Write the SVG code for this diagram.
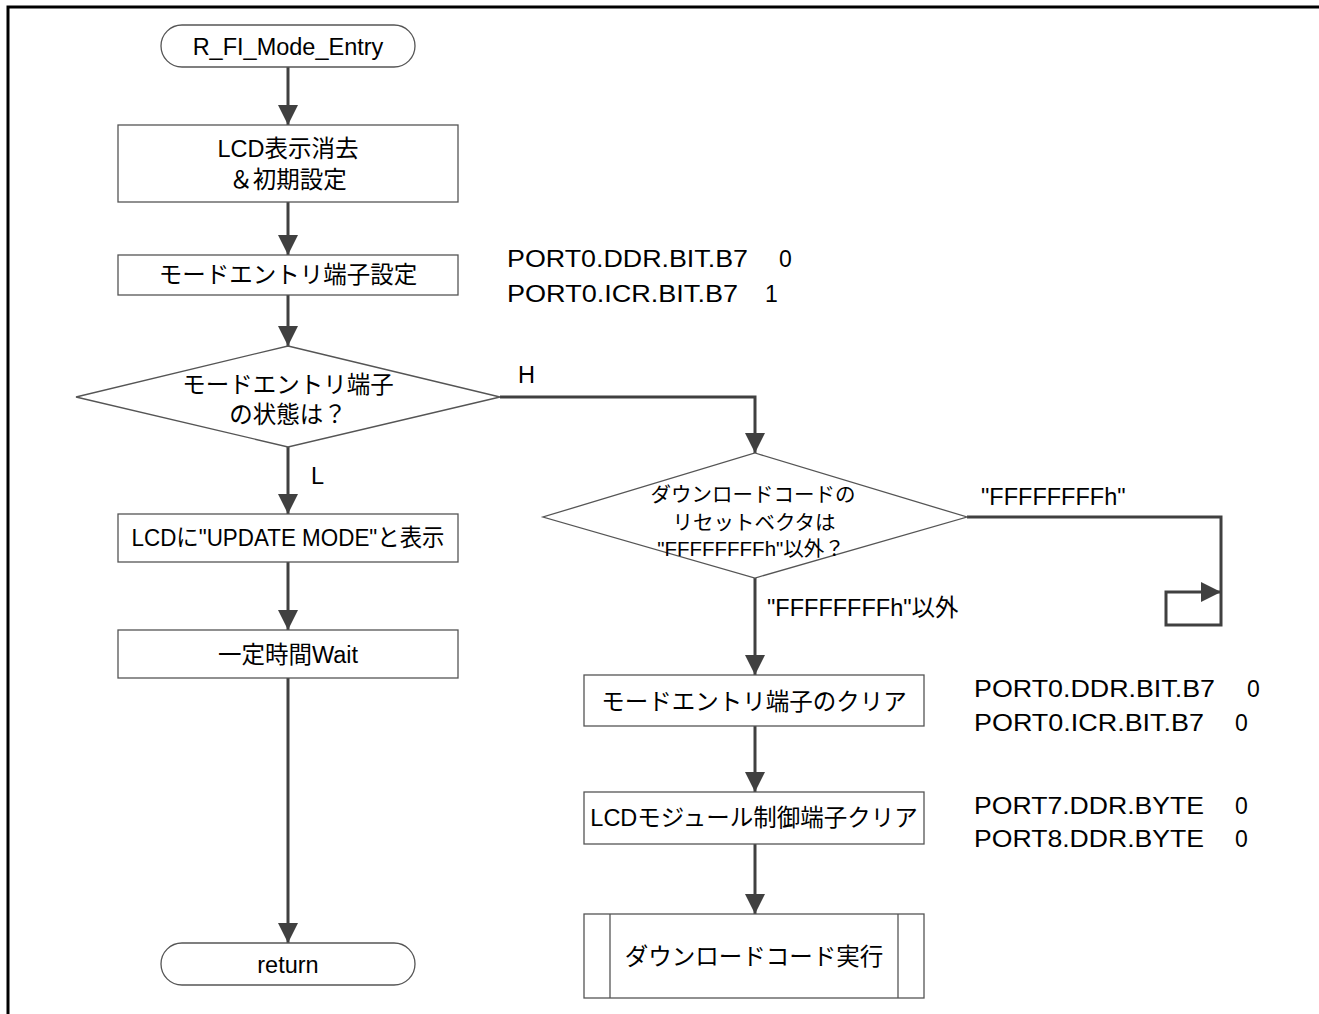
<svg xmlns="http://www.w3.org/2000/svg" width="1319" height="1014" viewBox="0 0 1319 1014">
<defs>
<style>
.node{fill:#fff;stroke:#555;stroke-width:1.3}
.t{font-family:"Liberation Sans","Noto Sans CJK JP",sans-serif;font-size:23.5px;fill:#000;text-anchor:middle}
.s{font-family:"Liberation Sans","Noto Sans CJK JP",sans-serif;font-size:20.5px;fill:#000;text-anchor:middle}
.l{font-family:"Liberation Sans","Noto Sans CJK JP",sans-serif;font-size:23.5px;fill:#000}
.a{font-family:"Liberation Sans","Noto Sans CJK JP",sans-serif;font-size:23px;fill:#000}
.c{fill:none;stroke:#404040;stroke-width:3}
</style>
<marker id="ah" viewBox="0 0 20 20" refX="20" refY="10" markerWidth="20" markerHeight="20" markerUnits="userSpaceOnUse" orient="auto">
<path d="M0,0 L20,10 L0,20 Z" fill="#404040"/>
</marker>
</defs>
<rect width="1319" height="1014" fill="#fff"/>
<path d="M8,1014 V7 H1319" fill="none" stroke="#000" stroke-width="3"/>

<g id="connectors">
<path class="c" d="M288,67 V125" marker-end="url(#ah)"/>
<path class="c" d="M288,202 V255" marker-end="url(#ah)"/>
<path class="c" d="M288,295 V346" marker-end="url(#ah)"/>
<path class="c" d="M288,447 V514" marker-end="url(#ah)"/>
<path class="c" d="M288,562 V630" marker-end="url(#ah)"/>
<path class="c" d="M288,678 V943" marker-end="url(#ah)"/>
<path class="c" d="M500,397 H755 V453" marker-end="url(#ah)"/>
<path class="c" d="M967,517 H1221 V625 H1166 V592 H1221" marker-end="url(#ah)"/>
<path class="c" d="M755,578 V675" marker-end="url(#ah)"/>
<path class="c" d="M755,726 V792" marker-end="url(#ah)"/>
<path class="c" d="M755,844 V914" marker-end="url(#ah)"/>
<text class="l" x="518" y="383">H</text>
<text class="l" x="311" y="484">L</text>
<text class="l" x="981" y="505">"FFFFFFFFh"</text>
<text class="l" x="767" y="616">"FFFFFFFFh"以外</text>
</g>

<g id="start">
<rect class="node" x="161" y="25" width="254" height="42" rx="21"/>
<text class="t" x="288" y="55">R_FI_Mode_Entry</text>
</g>
<g id="lcd-init">
<rect class="node" x="118" y="125" width="340" height="77"/>
<text class="t" x="288" y="157">LCD表示消去</text>
<text class="t" x="288" y="188">＆初期設定</text>
</g>
<g id="mode-pin-set">
<rect class="node" x="118" y="255" width="340" height="40"/>
<text class="t" x="288" y="283">モードエントリ端子設定</text>
</g>
<g id="note1">
<text class="a" x="507" y="267"><tspan textLength="241" lengthAdjust="spacingAndGlyphs">PORT0.DDR.BIT.B7</tspan><tspan x="779">0</tspan></text>
<text class="a" x="507" y="302"><tspan textLength="231" lengthAdjust="spacingAndGlyphs">PORT0.ICR.BIT.B7</tspan><tspan x="765">1</tspan></text>
</g>
<g id="pin-state">
<polygon class="node" points="288,346 500,397 288,447 76,397"/>
<text class="t" x="288" y="393">モードエントリ端子</text>
<text class="t" x="288" y="423">の状態は？</text>
</g>
<g id="lcd-update">
<rect class="node" x="118" y="514" width="340" height="48"/>
<text class="t" x="288" y="546" textLength="313" lengthAdjust="spacingAndGlyphs">LCDに"UPDATE MODE"と表示</text>
</g>
<g id="wait">
<rect class="node" x="118" y="630" width="340" height="48"/>
<text class="t" x="288" y="663">一定時間Wait</text>
</g>
<g id="return">
<rect class="node" x="161" y="943" width="254" height="42" rx="21"/>
<text class="t" x="288" y="973">return</text>
</g>
<g id="reset-vector">
<polygon class="node" points="755,453 967,517 755,578 543,517"/>
<text class="s" x="753" y="502">ダウンロードコードの</text>
<text class="s" x="754" y="530">リセットベクタは</text>
<text class="s" x="751" y="556">"FFFFFFFFh"以外？</text>
</g>
<g id="pin-clear">
<rect class="node" x="584" y="675" width="340" height="51"/>
<text class="t" x="754" y="710">モードエントリ端子のクリア</text>
</g>
<g id="note2">
<text class="a" x="974" y="697"><tspan textLength="241" lengthAdjust="spacingAndGlyphs">PORT0.DDR.BIT.B7</tspan><tspan x="1247">0</tspan></text>
<text class="a" x="974" y="731"><tspan textLength="230" lengthAdjust="spacingAndGlyphs">PORT0.ICR.BIT.B7</tspan><tspan x="1235">0</tspan></text>
</g>
<g id="lcd-pin-clear">
<rect class="node" x="584" y="792" width="340" height="52"/>
<text class="t" x="754" y="826">LCDモジュール制御端子クリア</text>
</g>
<g id="note3">
<text class="a" x="974" y="814"><tspan textLength="230" lengthAdjust="spacingAndGlyphs">PORT7.DDR.BYTE</tspan><tspan x="1235">0</tspan></text>
<text class="a" x="974" y="847"><tspan textLength="230" lengthAdjust="spacingAndGlyphs">PORT8.DDR.BYTE</tspan><tspan x="1235">0</tspan></text>
</g>
<g id="run-download">
<rect class="node" x="584" y="914" width="340" height="84"/>
<line class="node" x1="610" y1="914" x2="610" y2="998"/>
<line class="node" x1="898" y1="914" x2="898" y2="998"/>
<text class="t" x="754" y="965">ダウンロードコード実行</text>
</g>
</svg>
